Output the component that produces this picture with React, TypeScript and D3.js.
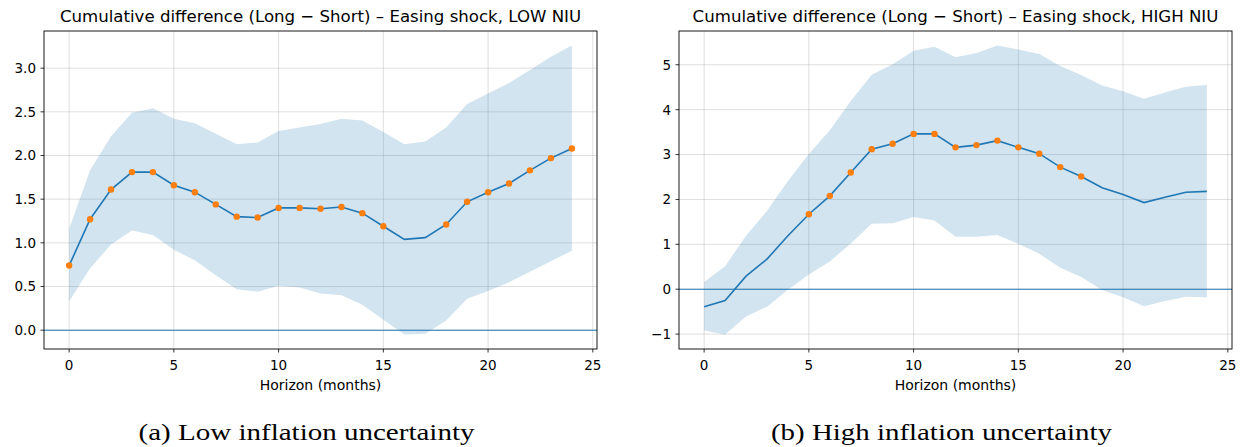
import React from "react";
import * as d3 from "d3";

const horizons = d3.range(0, 25);

// Panel (a): LOW NIU
const lowMean = [0.74, 1.27, 1.61, 1.81, 1.81, 1.66, 1.58, 1.44, 1.30, 1.29, 1.40, 1.40, 1.39, 1.41, 1.34, 1.19, 1.04, 1.06, 1.21, 1.47, 1.58, 1.68, 1.83, 1.97, 2.08];
const lowUpper = [1.16, 1.83, 2.22, 2.49, 2.54, 2.42, 2.37, 2.25, 2.13, 2.15, 2.28, 2.32, 2.36, 2.42, 2.40, 2.27, 2.13, 2.16, 2.32, 2.59, 2.71, 2.83, 2.98, 3.13, 3.26];
const lowLower = [0.33, 0.71, 0.98, 1.14, 1.09, 0.92, 0.80, 0.63, 0.47, 0.44, 0.51, 0.49, 0.42, 0.40, 0.29, 0.12, -0.05, -0.04, 0.11, 0.36, 0.45, 0.55, 0.67, 0.79, 0.91];

// Panel (b): HIGH NIU
const highMean = [-0.39, -0.25, 0.29, 0.67, 1.19, 1.67, 2.08, 2.60, 3.12, 3.24, 3.46, 3.46, 3.16, 3.21, 3.31, 3.16, 3.02, 2.72, 2.51, 2.26, 2.11, 1.93, 2.05, 2.16, 2.18];
const highUpper = [0.16, 0.51, 1.19, 1.74, 2.41, 3.01, 3.54, 4.19, 4.78, 5.01, 5.31, 5.40, 5.17, 5.26, 5.43, 5.34, 5.24, 4.97, 4.77, 4.54, 4.41, 4.24, 4.38, 4.51, 4.55];
const highLower = [-0.92, -1.01, -0.61, -0.39, -0.01, 0.33, 0.62, 1.02, 1.46, 1.47, 1.61, 1.53, 1.17, 1.17, 1.21, 1.01, 0.79, 0.48, 0.27, -0.02, -0.18, -0.38, -0.26, -0.17, -0.18];

const xTicks = [0, 5, 10, 15, 20, 25];
const lowYTicks = [0, 0.5, 1.0, 1.5, 2.0, 2.5, 3.0];
const highYTicks = [-1, 0, 1, 2, 3, 4, 5];

const titles = [
  "Cumulative difference (Long \u2212 Short) \u2013 Easing shock, LOW NIU",
  "Cumulative difference (Long \u2212 Short) \u2013 Easing shock, HIGH NIU",
];
const captions = ["(a) Low inflation uncertainty", "(b) High inflation uncertainty"];
const xLabel = "Horizon (months)";

const BLUE = "#1f77b4";
const ORANGE = "#ff7f0e";
const FONT = "DejaVu Sans, sans-serif";

type PanelProps = {
  left: number;
  right: number;
  top: number;
  bottom: number;
  mean: number[];
  upper: number[];
  lower: number[];
  yTicks: number[];
  yFmt: (v: number) => string;
  title: string;
  caption: string;
  captionLen: number;
};

function Panel(p: PanelProps) {
  const xs = d3.scaleLinear().domain([-1.2, 25.2]).range([p.left, p.right]);
  const ymin = Math.min(d3.min(p.lower) as number, 0);
  const ymax = Math.max(d3.max(p.upper) as number, 0);
  const pad = (ymax - ymin) * 0.05;
  const ys = d3.scaleLinear().domain([ymin - pad, ymax + pad]).range([p.bottom, p.top]);

  const area = d3
    .area<number>()
    .x((d) => xs(d))
    .y0((d) => ys(p.lower[d]))
    .y1((d) => ys(p.upper[d]));
  const line = d3
    .line<number>()
    .x((d) => xs(d))
    .y((d) => ys(p.mean[d]));

  const sig = horizons.filter((h) => p.lower[h] > 0 || p.upper[h] < 0);
  const cx = (p.left + p.right) / 2;
  const id = "clip" + p.left;

  return (
    <g>
      <defs>
        <clipPath id={id}>
          <rect x={p.left} y={p.top} width={p.right - p.left} height={p.bottom - p.top} />
        </clipPath>
      </defs>
      <g clipPath={`url(#${id})`}>
        {xTicks.map((t) => (
          <line key={"gx" + t} x1={xs(t)} x2={xs(t)} y1={p.top} y2={p.bottom} stroke="#b0b0b0" strokeOpacity={0.5} strokeWidth={0.8} />
        ))}
        {p.yTicks.map((t) => (
          <line key={"gy" + t} x1={p.left} x2={p.right} y1={ys(t)} y2={ys(t)} stroke="#b0b0b0" strokeOpacity={0.5} strokeWidth={0.8} />
        ))}
        <path d={area(horizons) as string} fill={BLUE} fillOpacity={0.2} />
        <line x1={p.left} x2={p.right} y1={ys(0)} y2={ys(0)} stroke={BLUE} strokeWidth={1.1} />
        <path d={line(horizons) as string} fill="none" stroke={BLUE} strokeWidth={1.6} />
        {sig.map((h) => (
          <circle key={"m" + h} cx={xs(h)} cy={ys(p.mean[h])} r={3.2} fill={ORANGE} />
        ))}
      </g>
      <rect x={p.left} y={p.top} width={p.right - p.left} height={p.bottom - p.top} fill="none" stroke="#000" strokeWidth={0.9} />
      {xTicks.map((t) => (
        <g key={"xt" + t}>
          <line x1={xs(t)} x2={xs(t)} y1={p.bottom} y2={p.bottom + 3.5} stroke="#000" strokeWidth={0.8} />
          <text x={xs(t)} y={p.bottom + 21} textAnchor="middle" fontFamily={FONT} fontSize={13.5} fill="#000">
            {String(t)}
          </text>
        </g>
      ))}
      {p.yTicks.map((t) => (
        <g key={"yt" + t}>
          <line x1={p.left - 3.5} x2={p.left} y1={ys(t)} y2={ys(t)} stroke="#000" strokeWidth={0.8} />
          <text x={p.left - 8} y={ys(t)} dy="0.36em" textAnchor="end" fontFamily={FONT} fontSize={13.5} fill="#000">
            {p.yFmt(t)}
          </text>
        </g>
      ))}
      <text x={cx} y={p.bottom + 41} textAnchor="middle" fontFamily={FONT} fontSize={14} fill="#000">
        {xLabel}
      </text>
      <text x={cx} y={p.top - 9} textAnchor="middle" fontFamily={FONT} fontSize={16.6} fill="#000">
        {p.title}
      </text>
      <text x={cx - 14} y={440} textAnchor="middle" fontFamily="Liberation Serif, serif" fontSize={24} fill="#000" textLength={p.captionLen} lengthAdjust="spacingAndGlyphs">
        {p.caption}
      </text>
    </g>
  );
}

const fmt1 = d3.format(".1f");
const fmtInt = (v: number) => d3.format("d")(v).replace("-", "\u2212");

export default function App() {
  return (
    <svg width={1242} height={447} style={{ position: "absolute", left: 0, top: 0, background: "#fff" }}>
      <rect width={1242} height={447} fill="#fff" />
      <Panel left={44} right={597} top={31} bottom={349} mean={lowMean} upper={lowUpper} lower={lowLower} yTicks={lowYTicks} yFmt={fmt1} title={titles[0]} caption={captions[0]} captionLen={336} />
      <Panel left={679} right={1232} top={31} bottom={349} mean={highMean} upper={highUpper} lower={highLower} yTicks={highYTicks} yFmt={fmtInt} title={titles[1]} caption={captions[1]} captionLen={341} />
    </svg>
  );
}
